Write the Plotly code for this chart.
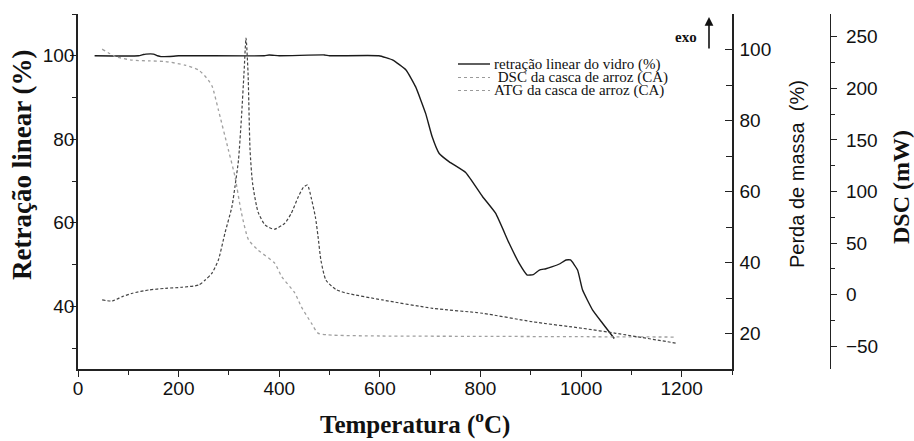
import plotly.graph_objects as go

# ---------------- data ----------------
# Retração linear do vidro (%)  -> left axis
ret_T = [33, 120, 130, 135, 150, 158, 165, 190, 200, 250, 370, 380, 400, 490, 500,
         598, 625, 652, 671, 691, 704, 718, 738, 771, 804, 830, 857, 877, 893,
         905, 917, 930, 943, 958, 970, 979, 993, 1003, 1023, 1043, 1066]
ret_v = [100.0, 100.0, 100.3, 100.4, 100.4, 100.0, 99.8, 99.9, 100.0, 100.0, 100.0, 100.2, 100.0, 100.2, 100.0,
         100.0, 99.0, 96.6, 92.6, 86.2, 80.6, 76.6, 74.6, 72.0, 66.3, 62.3, 55.1, 50.3, 47.5,
         47.6, 48.7, 49.0, 49.5, 50.2, 51.1, 51.1, 48.7, 43.9, 39.1, 35.9, 32.3]

# DSC da casca de arroz (mW) -> DSC axis
dsc_T = [48, 68, 88, 108, 141, 174, 207, 240, 253, 266, 279, 292, 306, 312, 319, 325, 330, 334,
         338, 342, 347, 358, 372, 390, 411, 424, 438, 448, 456, 464, 472, 477, 483, 493, 513, 535,
         605, 705, 804, 903, 1003, 1069, 1191]
dsc_v = [-5.1, -6.1, -1.9, 1.4, 4.6, 6.2, 7.2, 9.4, 14.2, 20.7, 33.6, 59.5, 85.3, 104.7, 130.5, 172.5, 215.0, 248.7,
         215.0, 140.2, 108.0, 80.0, 67.5, 63.4, 69.2, 78.9, 95.0, 104.0, 106.3, 93.0, 75.0, 57.0, 33.0, 14.0, 5.0, 1.4,
         -5.1, -13.2, -18.0, -26.2, -32.6, -37.4, -47.1]

# ATG da casca de arroz (%) -> Perda de massa axis
atg_T = [48, 75, 108, 140, 174, 213, 240, 259, 267, 279, 299, 312, 325, 339, 358, 391, 405, 431, 444,
         464, 477, 497, 600, 800, 1000, 1186]
atg_v = [100.1, 98.0, 97.0, 96.8, 96.6, 95.6, 94.2, 91.4, 89.5, 83.0, 71.7, 64.2, 53.9, 46.4, 43.5, 39.8, 36.0, 31.4, 27.5,
         22.9, 20.1, 19.6, 19.3, 19.2, 19.1, 19.0]

legend_names = ["retração linear do vidro (%)", " DSC da casca de arroz (CA)", "ATG da casca de arroz (CA)"]

x_ticks = [0, 200, 400, 600, 800, 1000, 1200]
left_ticks = [40, 60, 80, 100]
mass_ticks = [20, 40, 60, 80, 100]
dsc_ticks = [-50, 0, 50, 100, 150, 200, 250]

# ---------------- geometry helpers ----------------
W, H = 914, 441
ML, MR, MT, MB = 78, 20, 14, 72
PW = W - ML - MR
PH = H - MT - MB
def px(x):
    return (x - ML) / PW
def py(y):
    return (H - MB - y) / PH

X_END = px(732)
DSC_POS = px(830)

AX = "#222222"
serif = "Liberation Serif, Times New Roman, serif"
sans = "Liberation Sans, Arial, sans-serif"

fig = go.Figure()
fig.add_trace(go.Scatter(x=ret_T, y=ret_v, mode="lines", name=legend_names[0],
                         line=dict(color="#1a1a1a", width=1.4, shape="spline", smoothing=0.4),
                         xaxis="x", yaxis="y", showlegend=False))
fig.add_trace(go.Scatter(x=dsc_T, y=dsc_v, mode="lines", name=legend_names[1],
                         line=dict(color="#444444", width=1.2, dash="3px,2px", shape="spline", smoothing=0.6),
                         xaxis="x", yaxis="y3", showlegend=False))
fig.add_trace(go.Scatter(x=atg_T, y=atg_v, mode="lines", name=legend_names[2],
                         line=dict(color="#a0a0a0", width=1.3, dash="dot", shape="spline", smoothing=0.6),
                         xaxis="x", yaxis="y2", showlegend=False))

tickfont = dict(family=sans, size=19, color="#111")

fig.update_layout(
    width=W, height=H, autosize=False,
    margin=dict(l=ML, r=MR, t=MT, b=MB, pad=0),
    paper_bgcolor="white", plot_bgcolor="white",
    showlegend=False,
    xaxis=dict(domain=[0, X_END], range=[0, 1300], tickvals=x_ticks, ticks="outside", ticklen=6,
               tickwidth=1.2, tickcolor=AX, showline=True, linecolor=AX, linewidth=1.5,
               showgrid=False, zeroline=False, tickfont=tickfont, anchor="y", ticklabelstandoff=-5,
               minor=dict(dtick=100, tick0=0, ticks="outside", ticklen=4, tickcolor=AX, showgrid=False)),
    xaxis2=dict(domain=[0, X_END], range=[0, 1300], overlaying="x", side="top", anchor="y",
                tickvals=x_ticks, ticks="inside", ticklen=6, tickcolor=AX, tickwidth=1.2,
                showticklabels=False, showline=True, linecolor=AX, linewidth=1.5,
                showgrid=False, zeroline=False,
                minor=dict(dtick=100, tick0=0, ticks="inside", ticklen=4, tickcolor=AX, showgrid=False)),
    yaxis=dict(range=[25, 110], tickvals=left_ticks, ticks="outside", ticklen=6, tickwidth=1.2,
               tickcolor=AX, showline=True, linecolor=AX, linewidth=1.5, showgrid=False,
               zeroline=False, tickfont=tickfont, anchor="x", ticklabelstandoff=-8,
               minor=dict(dtick=10, tick0=0, ticks="outside", ticklen=4, tickcolor=AX, showgrid=False)),
    yaxis2=dict(range=[10, 110], overlaying="y", side="right", anchor="x", tickvals=mass_ticks,
                ticks="inside", ticklen=7, tickwidth=1.2, tickcolor=AX, showline=True, linecolor=AX,
                linewidth=1.5, showgrid=False, zeroline=False, tickfont=tickfont, ticklabelstandoff=2,
                minor=dict(dtick=10, tick0=0, ticks="inside", ticklen=6, tickcolor=AX, showgrid=False)),
    yaxis3=dict(range=[-72, 272], overlaying="y", side="right", anchor="free", position=DSC_POS,
                tickvals=dsc_ticks, ticks="outside", ticklen=6, tickwidth=1.2, tickcolor=AX,
                showline=True, linecolor=AX, linewidth=1.2, showgrid=False, zeroline=False,
                tickfont=tickfont, ticklabelstandoff=5,
                minor=dict(dtick=25, tick0=0, ticks="outside", ticklen=4, tickcolor=AX, showgrid=False)),
)

ann = []
# axis titles
ann.append(dict(text="<b>Retração linear (%)</b>", x=px(22), y=py(165), xref="paper", yref="paper",
                textangle=-90, showarrow=False, xanchor="center", yanchor="middle",
                font=dict(family=serif, size=27, color="#111")))
ann.append(dict(text="Perda de massa \u00a0(%)", x=px(797), y=py(174), xref="paper", yref="paper",
                textangle=-90, showarrow=False, xanchor="center", yanchor="middle",
                font=dict(family=sans, size=20, color="#111")))
ann.append(dict(text="<b>DSC (mW)</b>", x=px(901), y=py(187), xref="paper", yref="paper",
                textangle=-90, showarrow=False, xanchor="center", yanchor="middle",
                font=dict(family=serif, size=24, color="#111")))
ann.append(dict(text="<b>Temperatura (<sup>o</sup>C)</b>", x=px(415), y=py(422), xref="paper", yref="paper",
                showarrow=False, xanchor="center", yanchor="middle",
                font=dict(family=serif, size=25, color="#111")))
# exo arrow
ann.append(dict(text="<b>exo</b>", x=px(686), y=py(37), xref="paper", yref="paper", showarrow=False,
                xanchor="center", yanchor="middle", font=dict(family=serif, size=15, color="#111")))
ann.append(dict(text="", x=px(709), y=py(17), xref="paper", yref="paper", showarrow=True,
                ax=0, ay=33, arrowhead=2, arrowsize=1.1, arrowwidth=1.6, arrowcolor="#111"))

# legend (manual)
rows_y = [64, 77.5, 90.5]
samples = [dict(color="#1a1a1a", width=1.4, dash="solid"),
           dict(color="#9a9a9a", width=1.2, dash="dot"),
           dict(color="#9a9a9a", width=1.2, dash="dot")]
shapes = []
for i, (name, yy, st) in enumerate(zip(legend_names, rows_y, samples)):
    shapes.append(dict(type="line", xref="paper", yref="paper", x0=px(458), x1=px(490),
                       y0=py(yy), y1=py(yy), line=st))
    ann.append(dict(text=name, x=px(492), y=py(yy), xref="paper", yref="paper", showarrow=False,
                    xanchor="left", yanchor="middle", font=dict(family=serif, size=15, color="#111")))

fig.update_layout(annotations=ann, shapes=shapes)
fig.write_html("out.html", config={"displayModeBar": False},
               post_script="document.body.style.margin='0';document.body.style.overflow='hidden';")
